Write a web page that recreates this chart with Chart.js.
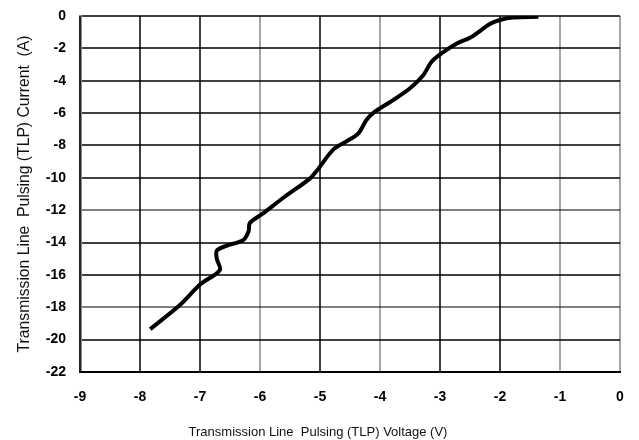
<!DOCTYPE html>
<html>
<head>
<meta charset="utf-8">
<script src="https://cdn.jsdelivr.net/npm/chart.js@4.4.0/dist/chart.umd.min.js"></script>
<style>
html,body{margin:0;padding:0;background:#fff;}
#wrap{width:639px;height:440px;position:relative;}
</style>
</head>
<body>
<div id="wrap"><canvas id="c"></canvas></div>
<script>
// TLP voltage (V) and current (A)
const voltage = [-7.83,-7.33,-7.0,-6.67,-6.72,-6.72,-6.56,-6.28,-6.19,-6.17,-5.95,-5.6,-5.17,-5.03,-4.78,-4.56,-4.36,-4.22,-4.08,-3.78,-3.5,-3.28,-3.14,-2.97,-2.72,-2.47,-2.17,-2.0,-1.78,-1.36];
const current = [-19.35,-17.85,-16.6,-15.7,-15.0,-14.5,-14.2,-13.85,-13.3,-12.8,-12.2,-11.2,-10.05,-9.45,-8.26,-7.75,-7.25,-6.4,-5.9,-5.2,-4.47,-3.66,-2.83,-2.3,-1.7,-1.28,-0.5,-0.25,-0.1,-0.05];
const xTitle = 'Transmission Line  Pulsing (TLP) Voltage (V)';
const yTitle = 'Transmission Line  Pulsing (TLP) Current  (A)';
const lightX = [-6,-4,-1,0];
const lightY = [-12,-18];

const pts = voltage.map((v,i)=>({x:v,y:current[i]}));

const xTitlePlugin = {
  id: 'xTitlePlugin',
  afterDraw(chart) {
    const ctx = chart.ctx;
    ctx.save();
    ctx.font = '13px "Liberation Sans"';
    ctx.fillStyle = '#111';
    ctx.textAlign = 'center';
    ctx.textBaseline = 'middle';
    ctx.fillText(xTitle, 318, 432);
    ctx.restore();
  }
};

new Chart(document.getElementById('c'), {
  type: 'scatter',
  data: { datasets: [{ data: pts, showLine: true, borderColor: '#000', borderWidth: 4, pointRadius: 0, tension: 0.3, fill: false }] },
  options: {
    responsive: true, maintainAspectRatio: false, animation: false,
    layout: { padding: { top: 16, right: 19, left: 0, bottom: 0 } },
    plugins: { legend: { display: false }, tooltip: { enabled: false } },
    scales: {
      x: {
        type: 'linear', min: -9, max: 0,
        afterFit: s => { s.height = 68; s.paddingLeft = 0; s.paddingRight = 0; },
        ticks: { stepSize: 1, padding: 17, color: '#000', font: { family: 'Liberation Sans', size: 14, weight: 'bold' } },
        grid: { drawTicks: false, lineWidth: 2,
          color: c => lightX.includes(c.tick && c.tick.value) ? 'rgba(0,0,0,0.35)' : 'rgba(0,0,0,0.75)' },
        border: { color: '#000', width: 2 },
        title: { display: false }
      },
      y: {
        type: 'linear', min: -22, max: 0,
        afterFit: s => { s.width = 80; s.paddingTop = 0; s.paddingBottom = 0; },
        ticks: { stepSize: 2, padding: 14, color: '#000', font: { family: 'Liberation Sans', size: 14, weight: 'bold' } },
        grid: { drawTicks: false, lineWidth: 2,
          color: c => lightY.includes(c.tick && c.tick.value) ? 'rgba(0,0,0,0.5)' : 'rgba(0,0,0,0.75)' },
        border: { color: 'rgba(0,0,0,0.45)', width: 3 },
        title: { display: true, text: yTitle, color: '#111', padding: { top: 15, bottom: 0 }, font: { family: 'Liberation Sans', size: 15.7 } }
      }
    }
  },
  plugins: [xTitlePlugin]
});
</script>
</body>
</html>
